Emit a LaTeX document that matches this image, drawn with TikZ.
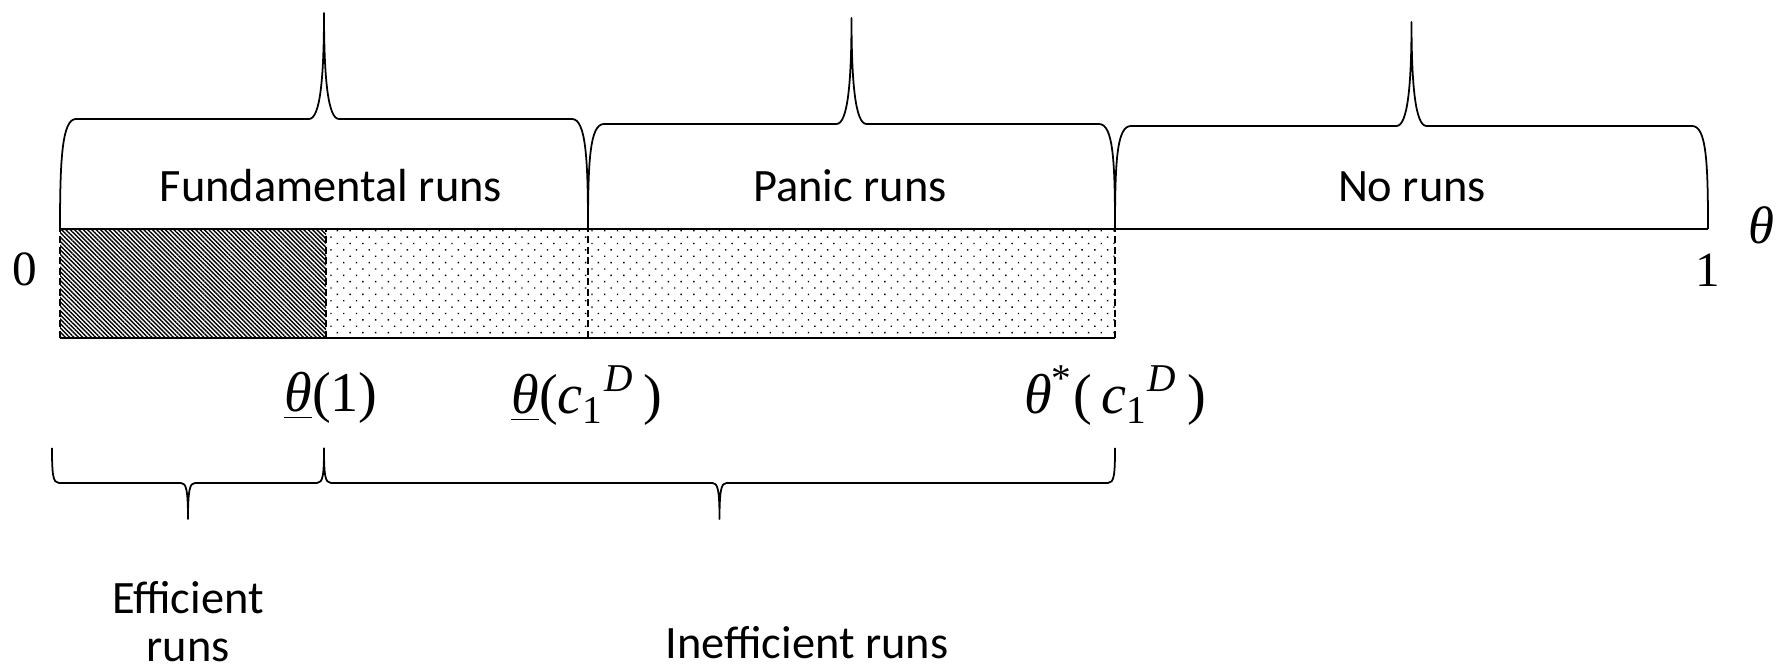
\documentclass[tikz,border=0pt]{standalone}
\usepackage{fontspec}
\setmainfont{Carlito}
\newfontfamily\tnr{Liberation Serif}
\usetikzlibrary{patterns.meta}

\begin{document}
\begin{tikzpicture}[x=0.01cm, y=0.01cm, line join=round,
  runtext/.style={font=\fontsize{13.2}{13.5}\selectfont, anchor=base},
  thlabel/.style={font=\tnr\fontsize{16}{18}\selectfont, anchor=base},
  numtext/.style={font=\tnr\fontsize{14}{16}\selectfont},
  edge/.style={line width=0.4pt, dash pattern=on 2pt off 1pt},
  brace/.style={line width=0.5pt}]
\useasboundingbox (0,0) rectangle (1780,670);

% end points of the intervals
\coordinate (p0) at (60,441);
\coordinate (p1) at (326,441);
\coordinate (p2) at (588,441);
\coordinate (p3) at (1115,441);
\coordinate (p4) at (1708,441);
\coordinate (q0) at (60,332);
\coordinate (q1) at (326,332);
\coordinate (q2) at (588,332);
\coordinate (q3) at (1115,332);

\fill [pattern={Lines[angle=-45, distance=0.87pt, line width=0.4pt]}] (q0) rectangle (p1);
\fill [pattern={Dots[angle=45, distance=2.56pt, radius=0.28pt]}] (q1) rectangle (p3);

\draw [line width=0.6pt] (p0) -- (p4);
\draw [line width=0.6pt] (q0) -- (q3);
\draw [edge] (q0) -- (p0);
\draw [edge] (q1) -- (p1);
\draw [edge] (q2) -- (p2);
\draw [edge] (q3) -- (p3);

% braces above the axis
\foreach \xa/\xb/\yh/\yt in {60/588/551/657, 588/1115/546/652, 1115/1708/544/648} {
  \pgfmathsetmacro\xm{(\xa+\xb)/2}
  \draw [brace] (\xa,441) .. controls (\xa,510) and (\xa+2,\yh) .. (\xa+16,\yh) -- (\xm-15,\yh)
    .. controls (\xm-4,\yh) and (\xm,\yh+40) .. (\xm,\yt)
    .. controls (\xm,\yh+40) and (\xm+4,\yh) .. (\xm+15,\yh) -- (\xb-16,\yh)
    .. controls (\xb-2,\yh) and (\xb,510) .. (\xb,441);
}

% braces below the bar
\foreach \xa/\xb in {52/324, 324/1115} {
  \pgfmathsetmacro\xm{(\xa+\xb)/2}
  \draw [brace] (\xa,222) .. controls (\xa,195) and (\xa+1,187) .. (\xa+7,187) -- (\xm-7,187)
    .. controls (\xm-2,187) and (\xm,181) .. (\xm,151)
    .. controls (\xm,181) and (\xm+2,187) .. (\xm+7,187) -- (\xb-7,187)
    .. controls (\xb-1,187) and (\xb,195) .. (\xb,222);
}

\node [runtext] (fund) at (331,468) {Fundamental runs};
\node [runtext] (panic) at (850,468) {Panic runs};
\node [runtext] (norun) at (1412,468) {No runs};
\node [runtext, align=center] (effic) at (188,9) {Efficient\\runs};
\node [runtext] (ineff) at (807,12) {Inefficient runs};

\node [thlabel] (thlow1) at (331,258) {\underline{\textit{θ}}(1)};
\node [thlabel] (thlowc) at (587,256) {\underline{\textit{θ}}(\textit{c}\textsubscript{1}\textsuperscript{\textit{D}}\,)};
\node [thlabel] (thstar) at (1115,256) {\textit{θ}\textsuperscript{*}(\,\textit{c}\textsubscript{1}\textsuperscript{\textit{D}}\,)};

\node [numtext] (zero) at (25,401) {0};
\node [numtext] (one) at (1708,400) {1};
\node [numtext, font=\tnr\itshape\fontsize{15}{17}\selectfont] (thaxis) at (1761,445) {θ};
\end{tikzpicture}
\end{document}
